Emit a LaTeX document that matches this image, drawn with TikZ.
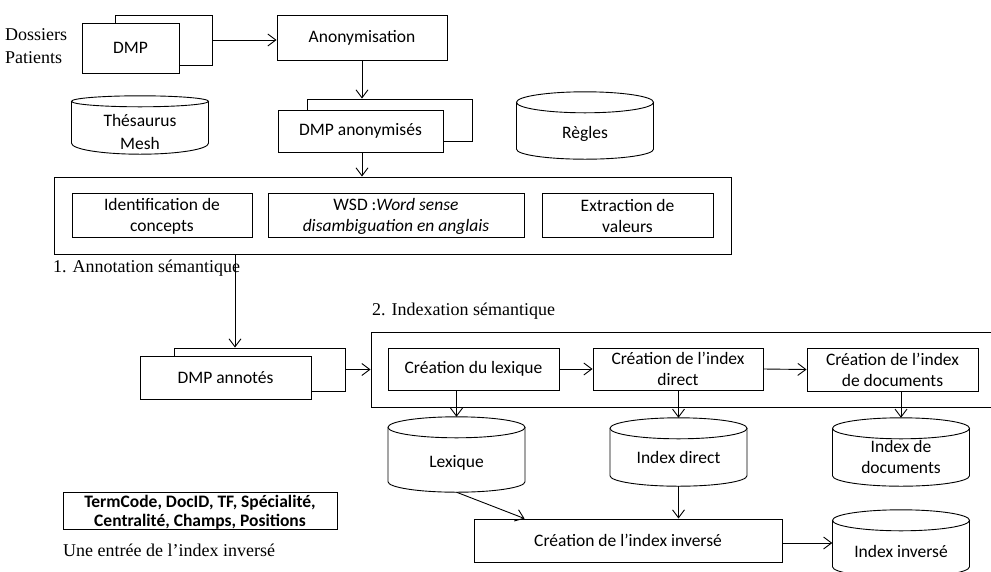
\documentclass[tikz,border=0pt]{standalone}
\usepackage{fontspec}
\setmainfont{Liberation Serif}
\newfontfamily\uifont{Carlito}
\usetikzlibrary{arrows.meta,shadows}

\tikzset{
  line/.style={line width=0.9pt, draw=black},
  arr/.style={line, -{Straight Barb[length=8pt,width=12pt,line width=0.9pt]}},
  uitext/.style={font=\uifont\fontsize{17.5}{21}\selectfont},
  serif/.style={font=\fontsize{18}{23}\selectfont, inner sep=0pt, anchor=west, align=left},
  procbox/.style={line, fill=white, align=center, inner sep=0pt, uitext},
  frame/.style={line, inner sep=0pt},
  dbbody/.style={inner sep=0pt, align=center, uitext, minimum width=137pt},
  stacked/.style 2 args={copy shadow={shadow xshift=#1pt, shadow yshift=#2pt, line width=0.9pt, draw=black, fill=white}},
}

% database symbol drawn around a body node: top ellipse (y radius #2) centred
% on the node's north, rounded bottom (y radius #3) ending on its south
\newcommand\dbcyl[3]{%
  \draw[line] ([xshift=-68.5pt]#1.north) -- ([xshift=-68.5pt,yshift=#3pt]#1.south)
    arc[start angle=180,end angle=360,x radius=68.5pt,y radius=#3pt]
    -- ([xshift=68.5pt]#1.north);
  \draw[line] (#1.north) ellipse[x radius=68.5pt,y radius=#2pt];
}

\begin{document}
\begin{tikzpicture}[x=1pt,y=-1pt]
\useasboundingbox (0,0) rectangle (991,571);

% ---------- input documents ----------
\node[serif] (dossiers) at (5,46.5) {Dossiers\\Patients};
\node[procbox, stacked={33}{8}, minimum width=97pt, minimum height=50pt] (dmp) at (130.5,48) {DMP};
\coordinate (dmpback) at ([xshift=33pt,yshift=8pt]dmp.east);
\node[procbox, minimum width=170pt, minimum height=45pt] (anon) at (362,37.5) {Anonymisation};
\node[procbox, stacked={29}{11}, minimum width=165pt, minimum height=42pt] (dmpa) at (360.5,131) {DMP anonymisés};

% ---------- knowledge resources ----------
\node[dbbody, minimum height=52.5pt, font=\uifont\fontsize{17.5}{23}\selectfont] (thes) at (140,127.75) {\rule{0pt}{21pt}Thésaurus\\Mesh};
\dbcyl{thes}{5.5}{11}
\node[dbbody, minimum height=56.5pt, text height=19pt] (regles) at (585,130.75) {Règles};
\dbcyl{regles}{10.5}{10}

% ---------- 1. semantic annotation ----------
\node[frame, minimum width=677pt, minimum height=77pt] (annot) at (392.5,215.5) {};
\node[procbox, minimum width=180pt, minimum height=44pt] (idc) at (162,215) {\rule{0pt}{15pt}Identification de\\concepts};
\node[procbox, minimum width=256pt, minimum height=44pt] (wsd) at (396,215) {\rule{0pt}{15pt}WSD :\textit{Word sense}\\\textit{disambiguation en anglais}};
\node[procbox, minimum width=171pt, minimum height=44pt] (ext) at (627.5,215) {\rule{0pt}{15pt}Extraction de\\valeurs};
\node[serif] (annotlbl) at (53,268) {1. Annotation sémantique};

\node[procbox, stacked={34}{8}, minimum width=171pt, minimum height=43pt] (dmpn) at (225.5,377.5) {DMP annotés};
\coordinate (dmpnback) at ([xshift=34pt,yshift=8pt]dmpn.east);
\coordinate (dmpntop) at ([yshift=8pt]dmpn.north);

% ---------- 2. semantic indexing ----------
\node[serif] (idxlbl) at (372,311) {2. Indexation sémantique};
\node[frame, minimum width=624pt, minimum height=75pt] (idx) at (683,369.5) {};
\node[procbox, minimum width=171pt, minimum height=42pt] (lexb) at (473.5,369) {Création du lexique};
\node[procbox, minimum width=170pt, minimum height=42pt] (dirb) at (678,369) {Création de l’index\\direct};
\node[procbox, minimum width=171pt, minimum height=43pt] (docb) at (892.5,369.5) {Création de l’index\\de documents};

\node[dbbody, minimum height=64.5pt, text height=17.5pt] (lex) at (456.5,459.75) {Lexique};
\dbcyl{lex}{10.5}{10.5}
\node[dbbody, minimum height=57.5pt] (idir) at (678.5,457.25) {Index direct};
\dbcyl{idir}{10.5}{10.5}
\node[dbbody, minimum height=57.5pt] (idoc) at (901,457.25) {Index de\\documents};
\dbcyl{idoc}{10.5}{10.5}

\node[procbox, minimum width=308pt, minimum height=43pt] (inv) at (628,540.5) {Création de l’index inversé};
\node[dbbody, minimum height=56.5pt, text height=17pt] (iinv) at (901,548.75) {Index inversé};
\dbcyl{iinv}{10.5}{10.5}

% ---------- inverted index entry ----------
\node[procbox, minimum width=274pt, minimum height=37pt, font=\uifont\bfseries\fontsize{17.5}{19.5}\selectfont] (entry) at (200,511) {\rule{0pt}{15pt}TermCode, DocID, TF, Spécialité,\\Centralité, Champs, Positions};
\node[serif] (entrylbl) at (63,550) {Une entrée de l’index inversé};

% ---------- connectors ----------
\draw[arr] (dmpback) -- (dmpback -| anon.west);
\draw[arr] (anon.south) -- ([yshift=11pt]dmpa.north -| anon.south);
\draw[arr] (dmpa.south -| anon.south) -- (annot.north -| anon.south);
\draw[arr] ([xshift=-157.5pt]annot.south) -- ([xshift=-157.5pt]annot.south |- dmpntop);
\draw[arr] (dmpnback) -- (dmpnback -| idx.west);
\draw[arr] (lexb.east) -- (dirb.west);
\draw[arr] (dirb.east) -- (docb.west);
\draw[arr] (lexb.south -| lex.north) -- ([yshift=10.5pt]lex.north);
\draw[arr] (dirb.south -| idir.north) -- ([yshift=10.5pt]idir.north);
\draw[arr] (docb.south -| idoc.north) -- ([yshift=10.5pt]idoc.north);
\draw[arr] (lex.south) -- ([xshift=51pt]inv.north west);
\draw[arr] (idir.south) -- (idir.south |- inv.north);
\draw[arr] ([yshift=-2.5pt]inv.east) -- ([yshift=-2.5pt]inv.east -| iinv.west);
\end{tikzpicture}
\end{document}
